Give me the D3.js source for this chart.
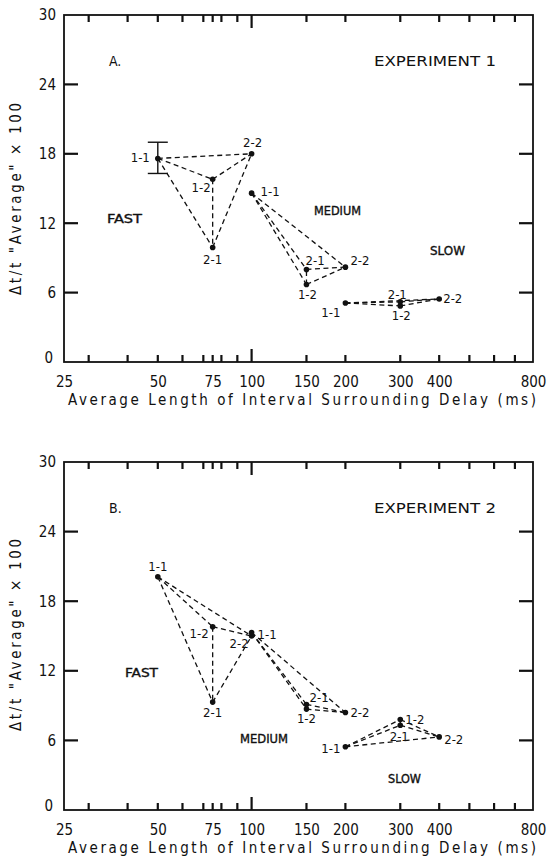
<!DOCTYPE html>
<html>
<head>
<meta charset="utf-8">
<script src="https://cdn.jsdelivr.net/npm/d3@7/dist/d3.min.js"></script>
<style>
  body { margin: 0; background: #fff; }
  svg { display: block; font-family: 'DejaVu Sans Condensed', 'DejaVu Sans', sans-serif; }
  .frame { fill: none; stroke: #111; stroke-width: 1.8; }
  .pair { fill: none; stroke: #111; stroke-width: 1.3; stroke-dasharray: 5,3.5; }
  .dot { fill: #111; }
  .errbar { stroke: #111; stroke-width: 1.4; }
  .tick-labels path { display: none; }
  .tick-labels text { fill: #111; font-size: 15px; }
  .pt-label { fill: #111; font-size: 13px; }
  .group-label { fill: #111; stroke: #111; stroke-width: 0.35; font-size: 12.5px; }
  .panel-label { fill: #111; font-size: 14px; }
  .axis-title { fill: #111; font-size: 15px; }
  .tickmarks { fill: none; stroke: #111; stroke-width: 2.2; }
</style>
</head>
<body>
<div id="chart"></div>
<script>
// values: delay threshold (%) per condition
const conditions = ['1-1', '1-2', '2-1', '2-2'];
const rateGroups = ['FAST', 'MEDIUM', 'SLOW'];
const fastMs = [50, 75, 75, 100];
const mediumMs = [100, 150, 150, 200];
const slowMs = [200, 300, 300, 400];

const exp1FastPct = [17.6, 15.8, 9.9, 18.0];
const exp1MediumPct = [14.6, 6.7, 8.0, 8.2];
const exp1SlowPct = [5.1, 4.85, 5.2, 5.45];
const exp1FastErrorBar = [16.3, 19.0];

const exp2FastPct = [20.1, 15.8, 9.3, 15.0];
const exp2MediumPct = [15.3, 8.7, 9.1, 8.4];
const exp2SlowPct = [5.45, 7.8, 7.3, 6.3];

const xTickLabels = [25, 50, 75, 100, 150, 200, 300, 400, 800];
const xMinorTicks = [30, 40, 50, 60, 70, 75, 80, 90, 150, 200, 300, 400, 500, 600, 700];
const xMajorTicks = [100];
const yTicks = [0, 6, 12, 18, 24, 30];

// label offsets from each dot: [dx, dy, anchor]
const labelPlacementA = {
  'FAST 1-1': [-8, 4, 'end'], 'FAST 1-2': [-2, 13, 'end'], 'FAST 2-1': [0, 17, 'middle'], 'FAST 2-2': [1, -7, 'middle'],
  'MEDIUM 1-1': [9, 3, 'start'], 'MEDIUM 1-2': [1, 14, 'middle'], 'MEDIUM 2-1': [-1, -4, 'start'], 'MEDIUM 2-2': [5, -2, 'start'],
  'SLOW 1-1': [-5, 14, 'end'], 'SLOW 1-2': [1, 14, 'middle'], 'SLOW 2-1': [-3, -3, 'middle'], 'SLOW 2-2': [4, 4, 'start'],
};
const labelPlacementB = {
  'FAST 1-1': [0, -6, 'middle'], 'FAST 1-2': [-4, 11, 'end'], 'FAST 2-1': [0, 15, 'middle'], 'FAST 2-2': [-3, 12, 'end'],
  'MEDIUM 1-1': [6, 6, 'start'], 'MEDIUM 1-2': [0, 14, 'middle'], 'MEDIUM 2-1': [3, -2, 'start'], 'MEDIUM 2-2': [5, 4, 'start'],
  'SLOW 1-1': [-5, 6, 'end'], 'SLOW 1-2': [5, 4, 'start'], 'SLOW 2-1': [-1, 16, 'middle'], 'SLOW 2-2': [5, 7, 'start'],
};

class DelayPanel {
  constructor(_config, _data) {
    this.config = {
      svg: _config.svg,
      left: _config.left,
      top: _config.top,
      width: 469,
      height: _config.height,
      letter: _config.letter,
      experiment: _config.experiment,
      groupLabels: _config.groupLabels,
      yTitleY: _config.yTitleY,
      labelPlacement: _config.labelPlacement,
    };
    this.data = _data;
    this.initVis();
  }

  initVis() {
    const vis = this;
    const cfg = vis.config;

    vis.chart = cfg.svg.append('g')
        .attr('transform', `translate(${cfg.left},${cfg.top})`);

    vis.xScale = d3.scaleLog()
        .domain([25, 800])
        .range([0, cfg.width]);

    vis.yScale = d3.scaleLinear()
        .domain([0, 30])
        .range([cfg.height, 0]);

    vis.chart.append('rect')
        .attr('class', 'frame')
        .attr('fill', 'none')
        .attr('width', cfg.width)
        .attr('height', cfg.height);

    // tick labels
    const xLab = vis.chart.append('g').attr('class', 'tick-labels')
        .attr('transform', `translate(0,${cfg.height})`)
        .call(d3.axisBottom(vis.xScale).tickValues(xTickLabels).tickSize(0).tickPadding(14)
            .tickFormat(d3.format('d')));
    const yLab = vis.chart.append('g').attr('class', 'tick-labels')
        .call(d3.axisLeft(vis.yScale).tickValues(yTicks).tickSize(0).tickPadding(8));
    xLab.attr('font-family', null).attr('font-size', null);
    yLab.attr('font-family', null).attr('font-size', null);
    yLab.selectAll('.tick').filter(d => d === 0).select('text')
        .attr('x', -11).attr('dy', '0.05em');

    // titles
    vis.chart.append('text')
        .attr('class', 'axis-title')
        .attr('x', 4)
        .attr('y', cfg.height + 43)
        .attr('textLength', 468)
        .attr('lengthAdjust', 'spacing')
        .text('Average Length of Interval Surrounding Delay (ms)');

    vis.chart.append('text')
        .attr('class', 'axis-title')
        .attr('transform', `translate(-43,${cfg.yTitleY}) rotate(-90)`)
        .attr('text-anchor', 'middle')
        .attr('textLength', 192)
        .attr('lengthAdjust', 'spacing')
        .text('\u0394t/t "Average" \u00d7 100');

    vis.chart.append('text')
        .attr('class', 'panel-label')
        .attr('x', 45).attr('y', 51)
        .text(cfg.letter);

    vis.chart.append('text')
        .attr('class', 'panel-label')
        .attr('x', 310).attr('y', 51)
        .attr('textLength', 122)
        .attr('lengthAdjust', 'spacingAndGlyphs')
        .text(cfg.experiment);

    vis.chart.selectAll('.group-label')
        .data(cfg.groupLabels)
        .join('text')
        .attr('class', 'group-label')
        .attr('x', d => d.x)
        .attr('y', d => d.y)
        .attr('textLength', d => d.len)
        .attr('lengthAdjust', 'spacingAndGlyphs')
        .text(d => d.name);

    vis.updateVis();
  }

  updateVis() {
    const vis = this;

    vis.points = [];
    vis.pairs = [];
    vis.data.groups.forEach(g => {
      const pts = conditions.map((c, j) => ({
        group: g.group, cond: c, ms: g.ms[j], pct: g.pct[j],
      }));
      vis.points.push(...pts);
      // every condition is joined to every other one in its group
      for (let i = 0; i < pts.length; i++) {
        for (let j = i + 1; j < pts.length; j++) {
          vis.pairs.push([pts[i], pts[j]]);
        }
      }
    });

    // tick segments: [x1, y1, x2, y2] in plot coordinates, all pointing inward
    const w = vis.config.width;
    const h = vis.config.height;
    vis.tickSegs = [];
    xMinorTicks.forEach(v => {
      vis.tickSegs.push([vis.xScale(v), h, vis.xScale(v), h - 7]);
      vis.tickSegs.push([vis.xScale(v), 0, vis.xScale(v), 7]);
    });
    xMajorTicks.forEach(v => {
      vis.tickSegs.push([vis.xScale(v), h, vis.xScale(v), h - 13]);
      vis.tickSegs.push([vis.xScale(v), 0, vis.xScale(v), 13]);
    });
    yTicks.slice(1, -1).forEach(v => {
      vis.tickSegs.push([0, vis.yScale(v), 14, vis.yScale(v)]);
      vis.tickSegs.push([w, vis.yScale(v), w - 14, vis.yScale(v)]);
    });

    vis.renderVis();
  }

  renderVis() {
    const vis = this;
    const place = vis.config.labelPlacement;

    vis.chart.selectAll('.pair')
        .data(vis.pairs)
        .join('line')
        .attr('class', 'pair')
        .attr('x1', d => vis.xScale(d[0].ms))
        .attr('y1', d => vis.yScale(d[0].pct))
        .attr('x2', d => vis.xScale(d[1].ms))
        .attr('y2', d => vis.yScale(d[1].pct));

    vis.chart.selectAll('.tickmarks')
        .data(vis.tickSegs)
        .join('line')
        .attr('class', 'tickmarks')
        .attr('x1', d => d[0])
        .attr('y1', d => d[1])
        .attr('x2', d => d[2])
        .attr('y2', d => d[3]);

    if (vis.data.errorBar) {
      const eb = vis.data.errorBar;
      const ex = vis.xScale(eb.ms);
      const eg = vis.chart.append('g');
      eg.append('line').attr('class', 'errbar')
          .attr('x1', ex).attr('x2', ex)
          .attr('y1', vis.yScale(eb.range[0])).attr('y2', vis.yScale(eb.range[1]));
      eb.range.forEach(v => {
        eg.append('line').attr('class', 'errbar')
            .attr('x1', ex - 10).attr('x2', ex + 10)
            .attr('y1', vis.yScale(v)).attr('y2', vis.yScale(v));
      });
    }

    vis.chart.selectAll('.dot')
        .data(vis.points)
        .join('circle')
        .attr('class', 'dot')
        .attr('r', 2.8)
        .attr('cx', d => vis.xScale(d.ms))
        .attr('cy', d => vis.yScale(d.pct));

    vis.chart.selectAll('.pt-label')
        .data(vis.points)
        .join('text')
        .attr('class', 'pt-label')
        .attr('x', d => vis.xScale(d.ms) + place[`${d.group} ${d.cond}`][0])
        .attr('y', d => vis.yScale(d.pct) + place[`${d.group} ${d.cond}`][1])
        .attr('text-anchor', d => place[`${d.group} ${d.cond}`][2])
        .text(d => d.cond);
  }
}

const groupMs = [fastMs, mediumMs, slowMs];
const exp1Groups = [exp1FastPct, exp1MediumPct, exp1SlowPct]
    .map((pct, i) => ({ group: rateGroups[i], ms: groupMs[i], pct: pct }));
const exp2Groups = [exp2FastPct, exp2MediumPct, exp2SlowPct]
    .map((pct, i) => ({ group: rateGroups[i], ms: groupMs[i], pct: pct }));

const svg = d3.select('#chart').append('svg')
    .attr('width', 550)
    .attr('height', 861);

new DelayPanel({
  svg: svg, left: 64, top: 15, height: 347,
  letter: 'A.', experiment: 'EXPERIMENT 1', yTitleY: 184,
  labelPlacement: labelPlacementA,
  groupLabels: [
    { name: rateGroups[0], x: 43, y: 208, len: 35 },
    { name: rateGroups[1], x: 250, y: 200, len: 47 },
    { name: rateGroups[2], x: 366, y: 240, len: 35 },
  ],
}, { groups: exp1Groups, errorBar: { ms: fastMs[0], range: exp1FastErrorBar } });

new DelayPanel({
  svg: svg, left: 64, top: 462, height: 348,
  letter: 'B.', experiment: 'EXPERIMENT 2', yTitleY: 173,
  labelPlacement: labelPlacementB,
  groupLabels: [
    { name: rateGroups[0], x: 61, y: 215, len: 33 },
    { name: rateGroups[1], x: 176, y: 281, len: 48 },
    { name: rateGroups[2], x: 324, y: 321, len: 33 },
  ],
}, { groups: exp2Groups, errorBar: null });
</script>
</body>
</html>
